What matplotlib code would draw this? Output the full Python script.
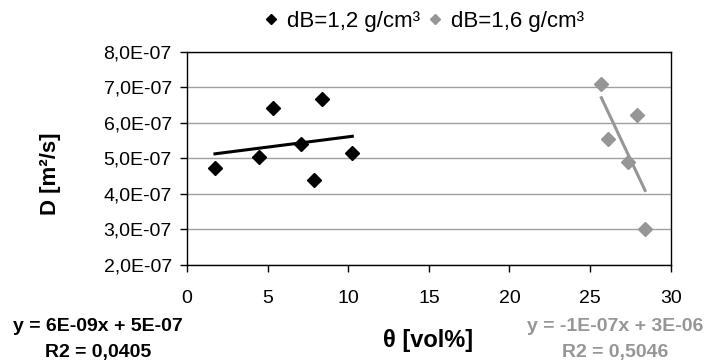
import numpy as np
import matplotlib.pyplot as plt

plt.rcParams['font.family'] = ['Liberation Sans', 'DejaVu Sans']

# soil water content [vol%] and diffusion coefficient [m2/s]
theta_12 = [1.73, 4.47, 5.32, 7.05, 7.87, 8.39, 10.25]
d_12 = [4.73e-07, 5.04e-07, 6.42e-07, 5.39e-07, 4.40e-07, 6.66e-07, 5.15e-07]

theta_16 = [25.7, 26.14, 27.38, 27.9, 28.41]
d_16 = [7.10e-07, 5.53e-07, 4.90e-07, 6.22e-07, 3.00e-07]

yticks = [2e-07, 3e-07, 4e-07, 5e-07, 6e-07, 7e-07, 8e-07]
ytick_labels = ['2,0E-07', '3,0E-07', '4,0E-07', '5,0E-07', '6,0E-07', '7,0E-07', '8,0E-07']
xticks = [0, 5, 10, 15, 20, 25, 30]

eq_12 = ['y = 6E-09x + 5E-07', 'R2 = 0,0405']
eq_16 = ['y = -1E-07x + 3E-06', 'R2 = 0,5046']

grey = '#969696'

fig = plt.figure(figsize=(7.06, 3.63), dpi=100)
ax = fig.add_axes([0.265, 0.271, 0.685, 0.586])

ax.plot(theta_12, d_12, 'D', color='black', ms=6.8, label='dB=1,2 g/cm³', zorder=3)
ax.plot(theta_16, d_16, 'D', color=grey, ms=6.8, label='dB=1,6 g/cm³', zorder=3)

# linear trend lines
for x, y, c in [(theta_12, d_12, 'black'), (theta_16, d_16, grey)]:
    k, b = np.polyfit(x, y, 1)
    xs = np.array([min(x), max(x)])
    ax.plot(xs, k * xs + b, color=c, lw=2.2, zorder=2)

ax.set_xlim(0, 30)
ax.set_ylim(2e-07, 8e-07)
ax.set_xticks(xticks)
ax.set_xticklabels([str(t) for t in xticks])
ax.set_yticks(yticks)
ax.set_yticklabels(ytick_labels)
ax.yaxis.grid(True, color='#a0a0a0', lw=1)
ax.set_axisbelow(True)
ax.tick_params(direction='out', length=5, width=1, labelsize=14, pad=6)
ax.tick_params(axis='x', pad=13)
for s in ax.spines.values():
    s.set_color('black')
    s.set_linewidth(1)

fig.text(0.0717, 0.522, 'D [m²/s]', fontsize=16, fontweight='bold', rotation=90,
         ha='center', va='center')
fig.text(0.606, 0.063, 'θ [vol%]', fontsize=17, fontweight='bold', ha='center', va='center')

fig.text(0.139, 0.100, eq_12[0], fontsize=14, fontweight='bold', ha='center', va='center')
fig.text(0.139, 0.030, eq_12[1], fontsize=14, fontweight='bold', ha='center', va='center')
fig.text(0.872, 0.100, eq_16[0], fontsize=14, fontweight='bold', ha='center', va='center', color=grey)
fig.text(0.872, 0.030, eq_16[1], fontsize=14, fontweight='bold', ha='center', va='center', color=grey)

fig.legend(loc='center', bbox_to_anchor=(0.601, 0.942), ncol=2, frameon=False,
           fontsize=16, handlelength=0.6, handletextpad=0.4, columnspacing=0.4,
           markerscale=0.75, borderpad=0)

fig.savefig('out.png', dpi=100)
